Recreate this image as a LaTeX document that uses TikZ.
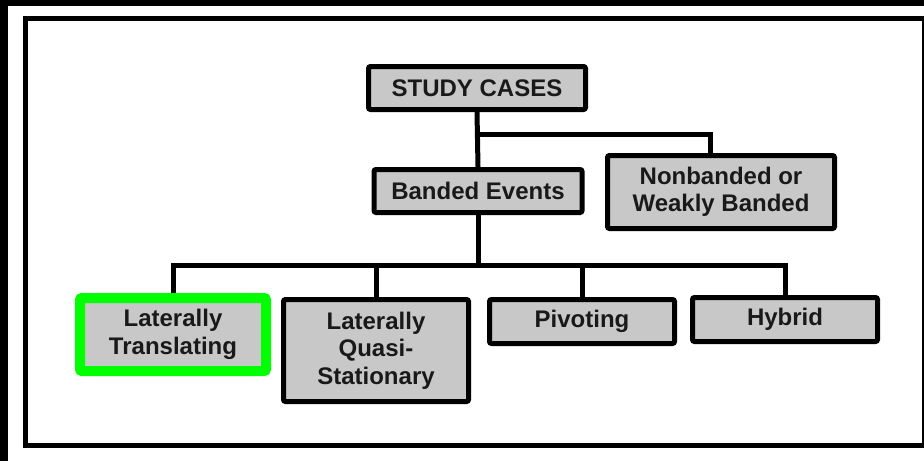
\documentclass[tikz,border=0pt]{standalone}
\usepackage{fontspec}
\setmainfont{Liberation Sans}
\definecolor{boxgray}{RGB}{200,200,200}
\definecolor{textblack}{RGB}{25,25,25}
\definecolor{brightgreen}{RGB}{0,255,0}
\begin{document}
\begin{tikzpicture}[x=1pt,y=-1pt,
    casebox/.style={draw=black,fill=boxgray,line width=5pt,rounded corners=2pt,
      align=center,inner sep=0pt,text=textblack,
      font=\bfseries\fontsize{24}{27.5}\selectfont},
    link/.style={line width=5pt}]
    \clip (0,0) rectangle (924,461);
    \useasboundingbox (0,0) rectangle (924,461);
    \fill[black] (0,0) rectangle (924,461);
    \fill[white] (8,6) rectangle (930,470);
    \draw[line width=5pt] (25.5,18.5) rectangle (924.5,445.5);

    \node[casebox,minimum width=217pt,minimum height=43pt] (study) at (477,88) {STUDY CASES};
    \node[casebox,minimum width=208pt,minimum height=43pt] (banded) at (478,191) {Banded Events};
    \node[casebox,minimum width=227pt,minimum height=73pt] (nonbanded) at (721,192) {Nonbanded or\\Weakly Banded};
    \node[casebox,draw=brightgreen,line width=10pt,minimum width=186pt,minimum height=73pt] (translating) at (173,334.5) {Laterally\\Translating};
    \node[casebox,minimum width=185pt,minimum height=102pt] (quasi) at (376,350.5) {Laterally\\Quasi-\\Stationary};
    \node[casebox,minimum width=185pt,minimum height=44pt] (pivoting) at (582,321.5) {Pivoting};
    \node[casebox,minimum width=185pt,minimum height=44pt] (hybrid) at (785,319.5) {Hybrid};

    \coordinate (split) at (0,134);
    \coordinate (bus) at (0,265);

    \draw[link] (study.south) -- (banded.north);
    \draw[link] (study.south |- split) -| ([xshift=-11pt]nonbanded.north);
    \draw[link] (banded.south) -- (banded.south |- bus);
    \draw[link] (translating.north) |- (hybrid.north |- bus) -- (hybrid.north);
    \draw[link] (quasi.north |- bus) -- (quasi.north);
    \draw[link] (pivoting.north |- bus) -- (pivoting.north);
  \end{tikzpicture}
\end{document}
